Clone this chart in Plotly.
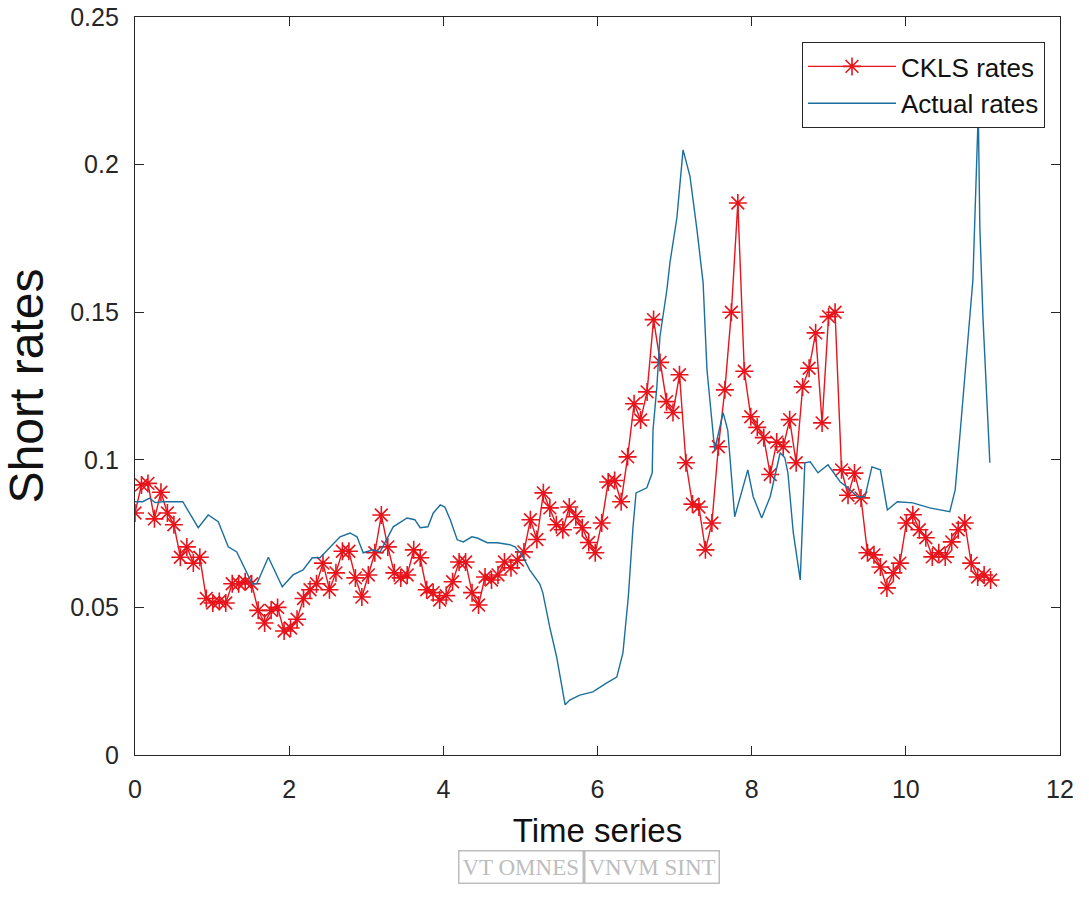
import numpy as np
import plotly.graph_objects as go

# CKLS model rates, evenly spaced in time from 0 to ~11.1
ckls_rates = [
    0.082, 0.0915, 0.092, 0.080, 0.089, 0.082, 0.078, 0.067, 0.0705, 0.065,
    0.067, 0.053, 0.0515, 0.052, 0.0515, 0.058, 0.058, 0.0587, 0.058, 0.049,
    0.0447, 0.049, 0.050, 0.042, 0.043, 0.046, 0.053, 0.056, 0.058, 0.065,
    0.056, 0.0617, 0.069, 0.069, 0.060, 0.0535, 0.061, 0.0685, 0.0813, 0.0705,
    0.0617, 0.060, 0.061, 0.0695, 0.0668, 0.056, 0.055, 0.0525, 0.054, 0.0587,
    0.0654, 0.0654, 0.055, 0.0508, 0.0603, 0.0593, 0.061, 0.0654, 0.0634, 0.066,
    0.0688, 0.0797, 0.073, 0.0888, 0.0837, 0.078, 0.0763, 0.084, 0.0807, 0.077,
    0.072, 0.0685, 0.0786, 0.0925, 0.093, 0.0858, 0.101, 0.119, 0.1135, 0.123,
    0.1475, 0.133, 0.1197, 0.116, 0.1288, 0.099, 0.085, 0.084, 0.0695, 0.0786,
    0.1044, 0.1237, 0.150, 0.187, 0.130, 0.1146, 0.111, 0.1075, 0.095, 0.106,
    0.1044, 0.1136, 0.099, 0.1247, 0.131, 0.143, 0.1125, 0.1485, 0.150, 0.0966,
    0.088, 0.0955, 0.0871, 0.0685, 0.0678, 0.0637, 0.0566, 0.0617, 0.065, 0.0786,
    0.0814, 0.0763, 0.0736, 0.0671, 0.0685, 0.0671, 0.0722, 0.0763, 0.0786, 0.065,
    0.0603, 0.061, 0.0593,
]
ckls_time = np.linspace(0, 11.1, len(ckls_rates))

# Actual short rates
actual_time = [
    0.00, 0.10, 0.19, 0.26, 0.36, 0.62, 0.82, 0.95, 1.08, 1.21, 1.32, 1.45, 1.52,
    1.58, 1.73, 1.91, 2.05, 2.18, 2.30, 2.40, 2.53, 2.66, 2.79, 2.88, 2.96, 3.09,
    3.18, 3.28, 3.35, 3.53, 3.63, 3.70, 3.80, 3.87, 3.96, 4.02, 4.09, 4.18, 4.26,
    4.37, 4.44, 4.57, 4.70, 4.87, 4.93, 5.02, 5.12, 5.25, 5.29, 5.38, 5.47, 5.58,
    5.64, 5.77, 5.94, 6.12, 6.25, 6.33, 6.40, 6.46, 6.50, 6.64, 6.71, 6.72, 6.77,
    6.81, 6.90, 6.94, 7.03, 7.11, 7.20, 7.29, 7.37, 7.42, 7.49, 7.52, 7.63, 7.69,
    7.78, 7.85, 7.95, 8.02, 8.13, 8.24, 8.37, 8.43, 8.47, 8.54, 8.63, 8.69, 8.76,
    8.86, 8.99, 9.15, 9.25, 9.37, 9.47, 9.56, 9.67, 9.76, 9.89, 10.09, 10.31,
    10.57, 10.64, 10.70, 10.79, 10.87, 10.94, 10.96, 11.00, 11.07, 11.09,
]
actual_rates = [
    0.0858, 0.0858, 0.087, 0.0855, 0.0858, 0.0858, 0.077, 0.0813, 0.079, 0.0705,
    0.0688, 0.0617, 0.058, 0.058, 0.067, 0.057, 0.061, 0.0627, 0.0668, 0.0668,
    0.0705, 0.0739, 0.0752, 0.0739, 0.0685, 0.0695, 0.0688, 0.0739, 0.0773, 0.0803,
    0.0797, 0.077, 0.0773, 0.082, 0.0847, 0.084, 0.0797, 0.0729, 0.0722, 0.0739,
    0.0735, 0.0719, 0.0719, 0.0712, 0.0705, 0.0678, 0.0627, 0.058, 0.055, 0.0434,
    0.0332, 0.017, 0.0186, 0.0203, 0.0214, 0.0244, 0.0264, 0.0346, 0.0536, 0.077,
    0.0888, 0.0905, 0.0956, 0.110, 0.1247, 0.1417, 0.1576, 0.1668, 0.182, 0.205,
    0.196, 0.178, 0.160, 0.1305, 0.110, 0.1034, 0.116, 0.110, 0.0807, 0.0875,
    0.0966, 0.0875, 0.0803, 0.0875, 0.1024, 0.1007, 0.0956, 0.0753, 0.0593, 0.099,
    0.0993, 0.0956, 0.0983, 0.0925, 0.0905, 0.0875, 0.0875, 0.0976, 0.0966, 0.083,
    0.0858, 0.0854, 0.0837, 0.0824, 0.0898, 0.1078, 0.135, 0.161, 0.218, 0.179,
    0.1485, 0.1136, 0.099,
]

x_ticks = [0, 2, 4, 6, 8, 10, 12]
y_ticks = [0, 0.05, 0.1, 0.15, 0.2, 0.25]
y_tick_labels = ["0", "0.05", "0.1", "0.15", "0.2", "0.25"]

FONT = "Liberation Sans, Arial, Helvetica, sans-serif"
AX = "#262626"
WM = "#bdbdbd"

fig = go.Figure()
fig.add_trace(go.Scatter(
    x=ckls_time, y=ckls_rates, mode="lines+markers", name="CKLS rates",
    line=dict(color="#e8141b", width=1.4),
    marker=dict(symbol="asterisk-open", size=15, color="#e8141b",
                line=dict(color="#e8141b", width=1.6)),
))
fig.add_trace(go.Scatter(
    x=actual_time, y=actual_rates, mode="lines", name="Actual rates",
    line=dict(color="#1b6f9e", width=1.4),
))

# plot area in pixels: left 135, right 1060, top 17, bottom 755
def px_x(p):
    return (p - 135) / 925

def px_y(p):
    return (755 - p) / 738

fig.update_layout(
    width=1089, height=897,
    margin=dict(l=135, r=29, t=17, b=142, autoexpand=False),
    paper_bgcolor="white", plot_bgcolor="white",
    font=dict(family=FONT, color=AX),
    showlegend=True,
    legend=dict(
        x=px_x(1045), y=px_y(42), xanchor="right", yanchor="top",
        bgcolor="white", bordercolor=AX, borderwidth=1,
        font=dict(size=26, family=FONT, color="#111"),
        itemwidth=88, tracegroupgap=0,
    ),
    annotations=[
        dict(text="VT OMNES", x=px_x(521), y=px_y(867), xref="paper", yref="paper",
             xanchor="center", yanchor="middle", showarrow=False,
             bordercolor=WM, borderwidth=1.5, borderpad=3,
             font=dict(family="Liberation Serif, serif", size=23, color=WM)),
        dict(text="VNVM SINT", x=px_x(652), y=px_y(867), xref="paper", yref="paper",
             xanchor="center", yanchor="middle", showarrow=False,
             bordercolor=WM, borderwidth=1.5, borderpad=3,
             font=dict(family="Liberation Serif, serif", size=23, color=WM)),
    ],
)

fig.update_xaxes(
    range=[0, 12], tickvals=x_ticks, ticks="inside", ticklen=9, tickcolor=AX,
    showline=True, linecolor=AX, linewidth=1.3, mirror="ticks", showgrid=False,
    zeroline=False, tickfont=dict(size=25, family=FONT, color=AX),
    ticklabelstandoff=12, automargin=False,
    title=dict(text="Time series", font=dict(size=33, family=FONT, color="#111"), standoff=16),
)
fig.update_yaxes(
    range=[0, 0.25], tickvals=y_ticks, ticktext=y_tick_labels, ticks="inside",
    ticklen=9, tickcolor=AX, showline=True, linecolor=AX, linewidth=1.3,
    mirror="ticks", showgrid=False, zeroline=False,
    tickfont=dict(size=25, family=FONT, color=AX),
    ticklabelstandoff=10, automargin=False,
    title=dict(text="Short rates", font=dict(size=48, family=FONT, color="#111"), standoff=12),
)

fig.write_html("out.html")
